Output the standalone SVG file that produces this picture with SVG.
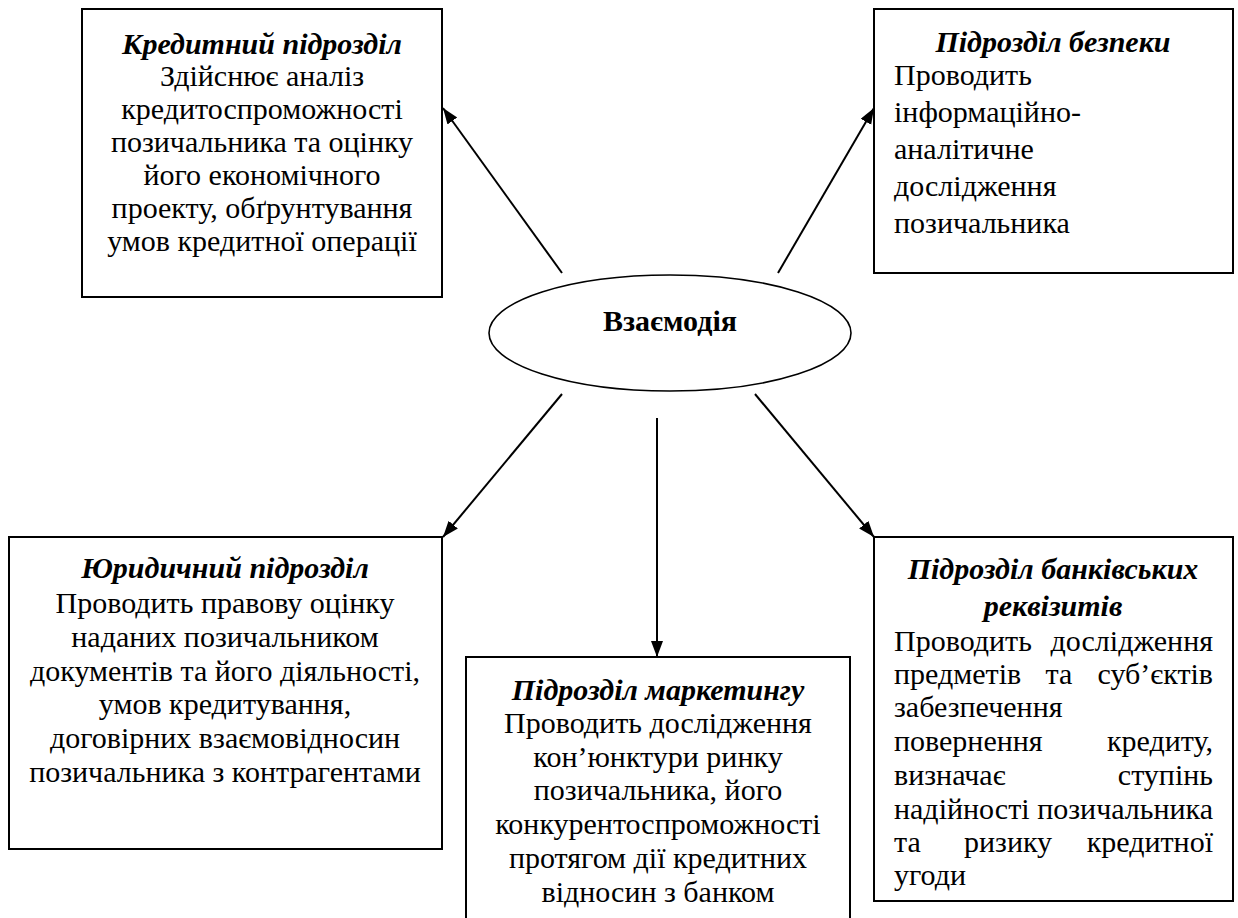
<svg xmlns="http://www.w3.org/2000/svg" width="1238" height="918" viewBox="0 0 1238 918">
  <defs>
    <style>
      .box { fill: #ffffff; stroke: #000000; stroke-width: 2; }
      .hub { fill: #ffffff; stroke: #000000; stroke-width: 1.6; }
      .link { stroke: #000000; stroke-width: 2; fill: none; marker-end: url(#arrow); }
      .title { font-weight: bold; font-style: italic; }
      .hubtext { font-weight: bold; }
      .c { text-anchor: middle; }
      .r { text-anchor: end; }
    </style>
    <marker id="arrow" markerUnits="userSpaceOnUse" markerWidth="18" markerHeight="14" refX="16" refY="6" orient="auto">
      <path d="M0,0 L16,6 L0,12 z" fill="#000000"/>
    </marker>
  </defs>
  <rect width="1238" height="918" fill="#ffffff"/>

  <!-- connectors from the central ellipse to each unit -->
  <g id="connectors">
    <line class="link" x1="562" y1="273" x2="443" y2="108"/>
    <line class="link" x1="778" y1="273" x2="874" y2="108"/>
    <line class="link" x1="562" y1="394" x2="443" y2="537"/>
    <line class="link" x1="657" y1="418" x2="657" y2="657"/>
    <line class="link" x1="755" y1="394" x2="874" y2="537"/>
  </g>

  <g font-family="'Liberation Serif', 'Times New Roman', 'DejaVu Serif', serif" font-size="30" fill="#000000">
    <!-- central node -->
    <g id="hub">
      <ellipse class="hub" cx="670" cy="333" rx="181" ry="58"/>
      <text class="hubtext c" x="670" y="331">Взаємодія</text>
    </g>

    <!-- credit unit -->
    <g id="credit">
      <rect class="box" x="82" y="9" width="360" height="288"/>
      <text class="title c" x="262" y="54">Кредитний підрозділ</text>
      <text class="c" x="262" y="86">Здійснює аналіз</text>
      <text class="c" x="262" y="119">кредитоспроможності</text>
      <text class="c" x="262" y="152">позичальника та оцінку</text>
      <text class="c" x="262" y="185">його економічного</text>
      <text class="c" x="262" y="218">проекту, обґрунтування</text>
      <text class="c" x="262" y="251">умов кредитної операції</text>
    </g>

    <!-- security unit -->
    <g id="security">
      <rect class="box" x="874" y="9" width="359" height="264"/>
      <text class="title c" x="1053" y="52">Підрозділ безпеки</text>
      <text x="894" y="85">Проводить</text>
      <text x="894" y="122">інформаційно-</text>
      <text x="894" y="159">аналітичне</text>
      <text x="894" y="196">дослідження</text>
      <text x="894" y="233">позичальника</text>
    </g>

    <!-- legal unit -->
    <g id="legal">
      <rect class="box" x="9" y="537" width="433" height="312"/>
      <text class="title c" x="225" y="578">Юридичний підрозділ</text>
      <text class="c" x="225" y="613">Проводить правову оцінку</text>
      <text class="c" x="225" y="647">наданих позичальником</text>
      <text class="c" x="225" y="681">документів та його діяльності,</text>
      <text class="c" x="225" y="714">умов кредитування,</text>
      <text class="c" x="225" y="748">договірних взаємовідносин</text>
      <text class="c" x="225" y="782">позичальника з контрагентами</text>
    </g>

    <!-- marketing unit -->
    <g id="marketing">
      <rect class="box" x="466" y="657" width="384" height="280"/>
      <text class="title c" x="658" y="700">Підрозділ маркетингу</text>
      <text class="c" x="658" y="733">Проводить дослідження</text>
      <text class="c" x="658" y="767">кон’юнктури ринку</text>
      <text class="c" x="658" y="800">позичальника, його</text>
      <text class="c" x="658" y="834">конкурентоспроможності</text>
      <text class="c" x="658" y="868">протягом дії кредитних</text>
      <text class="c" x="658" y="902">відносин з банком</text>
    </g>

    <!-- bank details unit (justified body) -->
    <g id="bank-details">
      <rect class="box" x="874" y="537" width="359" height="364"/>
      <text class="title c" x="1053" y="579">Підрозділ банківських</text>
      <text class="title c" x="1053" y="616">реквізитів</text>
      <text x="894" y="651">Проводить</text>
      <text class="r" x="1213" y="651">дослідження</text>
      <text x="894" y="684">предметів</text>
      <text class="c" x="1059" y="684">та</text>
      <text class="r" x="1213" y="684">суб’єктів</text>
      <text x="894" y="717">забезпечення</text>
      <text x="894" y="751">повернення</text>
      <text class="r" x="1213" y="751">кредиту,</text>
      <text x="894" y="785">визначає</text>
      <text class="r" x="1213" y="785">ступінь</text>
      <text x="894" y="819">надійності</text>
      <text class="r" x="1213" y="819">позичальника</text>
      <text x="894" y="852">та</text>
      <text x="964" y="852">ризику</text>
      <text class="r" x="1213" y="852">кредитної</text>
      <text x="894" y="885">угоди</text>
    </g>
  </g>
</svg>
